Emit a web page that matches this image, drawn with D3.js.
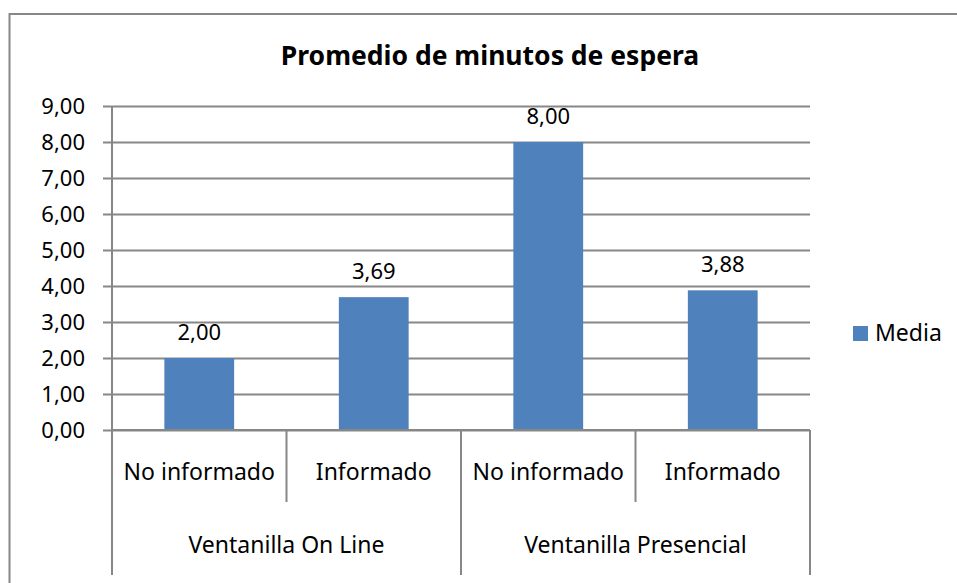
<html>
<head>
<meta charset="utf-8">
<title>Promedio de minutos de espera</title>
<script src="https://d3js.org/d3.v7.min.js"></script>
<style>
  body { margin: 0; background: #fff; }
  svg text { font-family: "Noto Sans", sans-serif; fill: #000; }
</style>
</head>
<body>
<div id="chart"></div>
<script>
// data
var subLabels = ["No informado", "Informado", "No informado", "Informado"];
var groupLabels = ["Ventanilla On Line", "Ventanilla Presencial"];
var groupOf = [0, 0, 1, 1];
var media = [2.00, 3.69, 8.00, 3.88];
var yTicks = [0, 1, 2, 3, 4, 5, 6, 7, 8, 9];
var seriesName = "Media";
var title = "Promedio de minutos de espera";

var W = 957, H = 583;
var plotL = 112, plotR = 810, plotT = 106, plotB = 430;
var gridColor = "#878787", barColor = "#4F81BD";
var fmt = function(v) { return d3.format(".2f")(v).replace(".", ","); };

var svg = d3.select("#chart").append("svg")
    .attr("width", W).attr("height", H);

// outer frame (only top and left visible)
svg.append("line").attr("x1", 9).attr("x2", W).attr("y1", 14).attr("y2", 14)
    .attr("stroke", gridColor).attr("stroke-width", 2);
svg.append("line").attr("x1", 9.5).attr("x2", 9.5).attr("y1", 13).attr("y2", H)
    .attr("stroke", gridColor).attr("stroke-width", 2);

// title
svg.append("text").attr("x", 490).attr("y", 65)
    .attr("text-anchor", "middle").style("font-weight", "bold").style("font-size", "26.5px")
    .text(title);

var idx = d3.range(media.length);
var x = d3.scaleBand().domain(idx).range([plotL, plotR]);
var xBar = d3.scaleBand().domain(idx).range([plotL, plotR]).paddingInner(0.6).paddingOuter(0.3);
var y = d3.scaleLinear().domain([0, 9]).range([plotB, plotT]);

// gridlines
var grid = svg.append("g").attr("transform", "translate(" + plotR + ",0)")
    .call(d3.axisLeft(y).tickValues(yTicks).tickSize(plotR - plotL + 9).tickFormat(""));
grid.select(".domain").remove();
grid.selectAll("line").attr("stroke", gridColor).attr("stroke-width", 2);

// y labels
var yAxis = svg.append("g").attr("transform", "translate(" + plotL + ",0)")
    .call(d3.axisLeft(y).tickValues(yTicks).tickSize(0).tickPadding(27).tickFormat(fmt));
yAxis.select(".domain").remove();
yAxis.selectAll("text").style("font-size", "22px");

// bars
svg.selectAll("rect.bar").data(media).enter().append("rect")
    .attr("class", "bar")
    .attr("x", function(d, i) { return xBar(i); })
    .attr("width", xBar.bandwidth())
    .attr("y", function(d) { return y(d); })
    .attr("height", function(d) { return y(0) - y(d); })
    .attr("fill", barColor);

// value labels
svg.selectAll("text.val").data(media).enter().append("text")
    .attr("class", "val")
    .attr("x", function(d, i) { return x(i) + x.bandwidth() / 2; })
    .attr("y", function(d) { return y(d) - 18; })
    .attr("text-anchor", "middle").style("font-size", "22px")
    .text(fmt);

// y axis line + category axis
svg.append("line").attr("x1", plotL).attr("x2", plotL).attr("y1", plotT).attr("y2", plotB)
    .attr("stroke", gridColor).attr("stroke-width", 2);
svg.append("line").attr("x1", plotL).attr("x2", plotR).attr("y1", plotB).attr("y2", plotB)
    .attr("stroke", gridColor).attr("stroke-width", 2);

var subBottom = 502, groupBottom = 575;
var bounds = idx.map(function(i) { return x(i); }).concat([plotR]);
svg.selectAll("line.sub").data(bounds).enter().append("line")
    .attr("class", "sub")
    .attr("x1", function(d) { return d; }).attr("x2", function(d) { return d; })
    .attr("y1", plotB).attr("y2", function(d, i) {
      return (i === 0 || i === bounds.length - 1 || groupOf[i] !== groupOf[i - 1]) ? groupBottom : subBottom;
    })
    .attr("stroke", gridColor).attr("stroke-width", 2);

svg.selectAll("text.sub").data(subLabels).enter().append("text")
    .attr("class", "sub")
    .attr("x", function(d, i) { return x(i) + x.bandwidth() / 2; })
    .attr("y", 480).attr("text-anchor", "middle").style("font-size", "23px")
    .text(function(d) { return d; });

svg.selectAll("text.grp").data(groupLabels).enter().append("text")
    .attr("class", "grp")
    .attr("x", function(d, g) {
      var members = idx.filter(function(i) { return groupOf[i] === g; });
      return (x(members[0]) + x(members[members.length - 1]) + x.bandwidth()) / 2;
    })
    .attr("y", 553).attr("text-anchor", "middle").style("font-size", "23px")
    .text(function(d) { return d; });

// legend
svg.append("rect").attr("x", 853).attr("y", 326).attr("width", 15).attr("height", 15)
    .attr("fill", barColor);
svg.append("text").attr("x", 875).attr("y", 341).style("font-size", "23px").text(seriesName);
</script>
</body>
</html>
